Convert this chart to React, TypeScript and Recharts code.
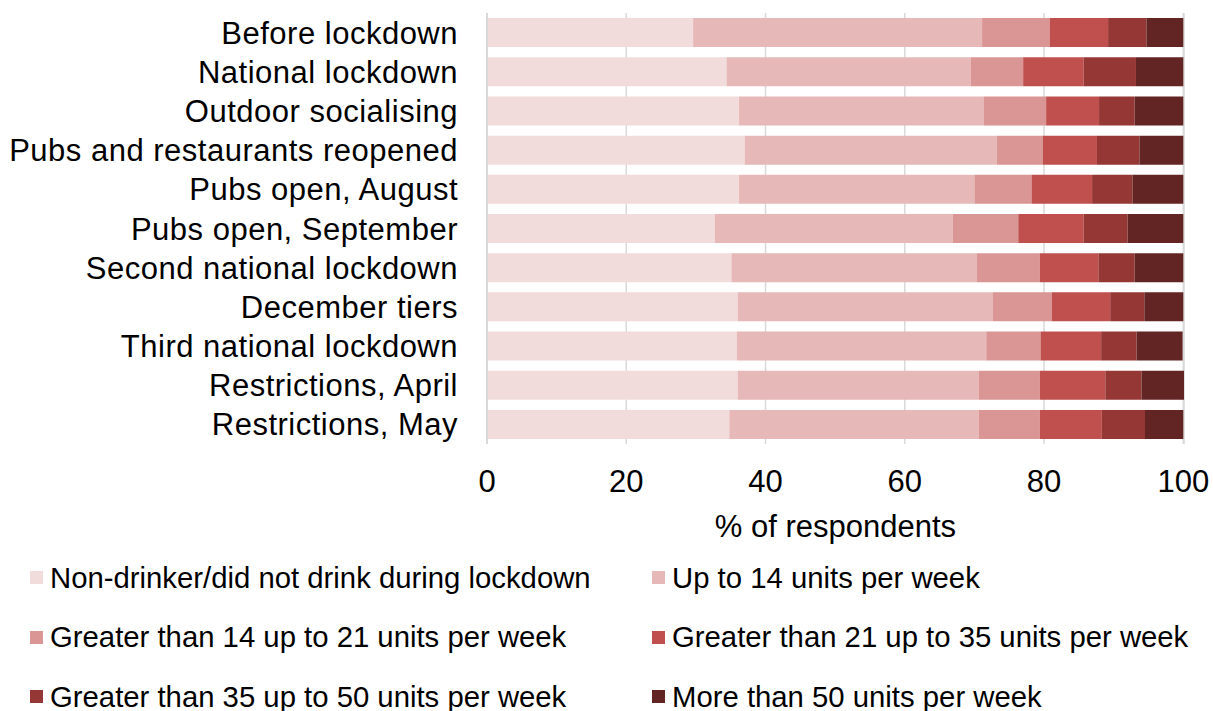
import { Bar, BarChart, CartesianGrid, XAxis, YAxis } from 'recharts';

const periods = [
  'Before lockdown',
  'National lockdown',
  'Outdoor socialising',
  'Pubs and restaurants reopened',
  'Pubs open, August',
  'Pubs open, September',
  'Second national lockdown',
  'December tiers',
  'Third national lockdown',
  'Restrictions, April',
  'Restrictions, May',
];

const nonDrinker = [29.6, 34.4, 36.2, 37.0, 36.2, 32.7, 35.1, 36.0, 35.9, 36.0, 34.8];
const upTo14 = [41.5, 35.1, 35.1, 36.2, 33.8, 34.2, 35.2, 36.6, 35.8, 34.6, 35.8];
const from14to21 = [9.7, 7.5, 9.0, 6.6, 8.2, 9.4, 9.1, 8.5, 7.8, 8.8, 8.8];
const from21to35 = [8.4, 8.7, 7.6, 7.8, 8.7, 9.4, 8.4, 8.4, 8.7, 9.4, 8.9];
const from35to50 = [5.5, 7.5, 5.1, 6.1, 5.8, 6.3, 5.2, 4.9, 5.1, 5.2, 6.2];
const over50 = [5.3, 6.8, 7.0, 6.3, 7.3, 8.0, 7.0, 5.6, 6.6, 6.1, 5.5];

const xTicks = [0, 20, 40, 60, 80, 100];

const SERIES = [
  { key: 'nonDrinker', name: 'Non-drinker/did not drink during lockdown', color: '#F2DCDB', values: nonDrinker },
  { key: 'upTo14', name: 'Up to 14 units per week', color: '#E6B8B7', values: upTo14 },
  { key: 'from14to21', name: 'Greater than 14 up to 21 units per week', color: '#DA9694', values: from14to21 },
  { key: 'from21to35', name: 'Greater than 21 up to 35 units per week', color: '#C0504D', values: from21to35 },
  { key: 'from35to50', name: 'Greater than 35 up to 50 units per week', color: '#953735', values: from35to50 },
  { key: 'over50', name: 'More than 50 units per week', color: '#632523', values: over50 },
];

const data = periods.map((name, i) => {
  const row: Record<string, string | number> = { name };
  SERIES.forEach((s) => {
    row[s.key] = s.values[i];
  });
  return row;
});

const FONT = '"Liberation Sans", Arial, sans-serif';

export default function App() {
  return (
    <div style={{ position: 'absolute', left: 0, top: 0, width: 1213, height: 711, fontFamily: FONT, background: '#fff' }}>
      <BarChart
        width={1213}
        height={711}
        data={data}
        layout="vertical"
        margin={{ top: 13, right: 29, bottom: 167, left: 0 }}
        barCategoryGap="13%"
        style={{ fontFamily: FONT }}
      >
        <CartesianGrid horizontal={false} stroke="#d9d9d9" strokeWidth={1.5} />
        <XAxis
          type="number"
          domain={[0, 100]}
          ticks={xTicks}
          axisLine={false}
          tickLine={false}
          tickMargin={20}
          height={100}
          tick={{ fontSize: 31, fill: '#000' }}
          label={{ value: '% of respondents', position: 'insideBottom', offset: 7, fontSize: 31, fill: '#000' }}
        />
        <YAxis
          type="category"
          dataKey="name"
          width={487}
          axisLine={{ stroke: '#d9d9d9', strokeWidth: 2 }}
          tickLine={false}
          tickMargin={23}
          interval={0}
          tick={{ fontSize: 31, fill: '#000', letterSpacing: 0.5 }}
        />
        {SERIES.map((s) => (
          <Bar key={s.key} dataKey={s.key} name={s.name} stackId="a" fill={s.color} isAnimationActive={false} />
        ))}
      </BarChart>
      <div
        style={{
          position: 'absolute',
          left: 30,
          top: 548,
          display: 'grid',
          gridTemplateColumns: '622px 560px',
          gridAutoRows: '59.5px',
        }}
      >
        {SERIES.map((s) => (
          <div key={s.key} style={{ display: 'flex', alignItems: 'center', fontSize: 29.3, color: '#000', whiteSpace: 'nowrap' }}>
            <span style={{ width: 13, height: 13, background: s.color, marginRight: 7, display: 'inline-block' }} />
            {s.name}
          </div>
        ))}
      </div>
    </div>
  );
}
